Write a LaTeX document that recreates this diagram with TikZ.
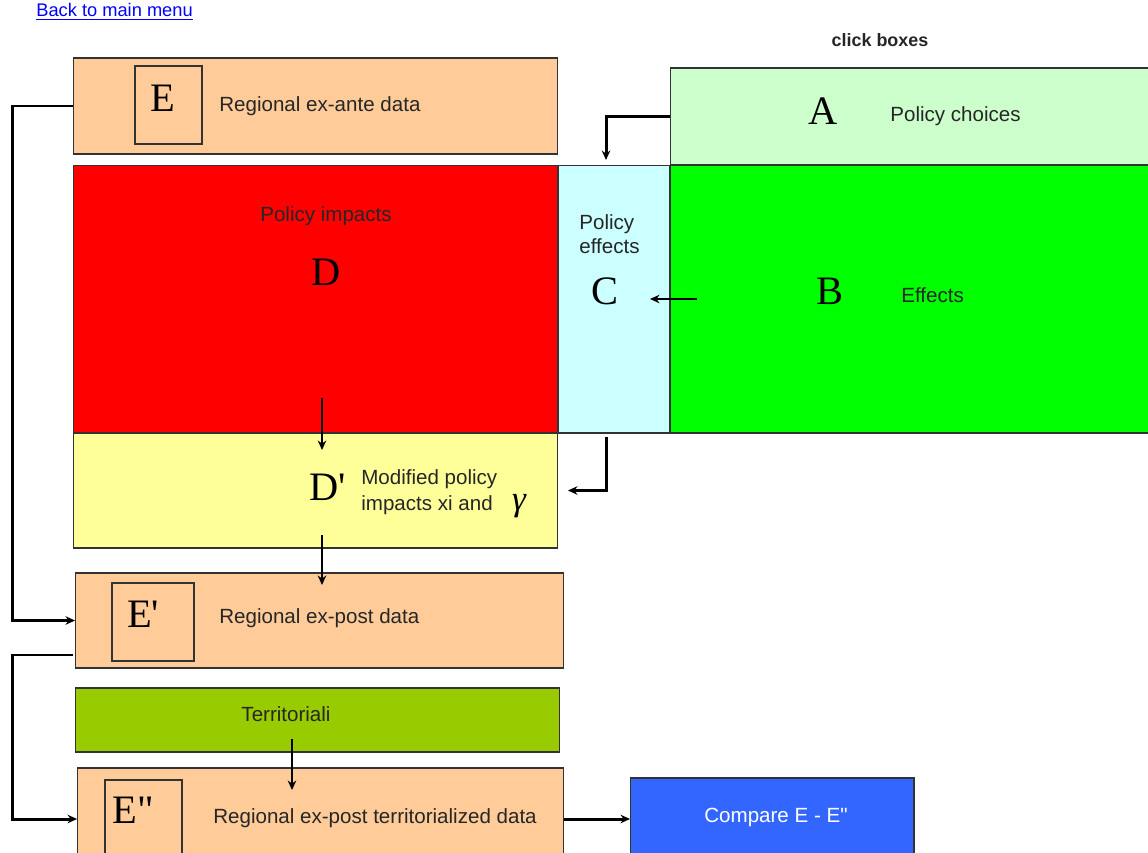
\documentclass[tikz,border=0pt]{standalone}
\usepackage{fontspec}
\setmainfont{Liberation Serif}
\newfontfamily\arialfont{Liberation Sans}
\usetikzlibrary{arrows.meta,positioning,calc}
\definecolor{peach}{HTML}{FFCC99}
\definecolor{palegreen}{HTML}{CCFFCC}
\definecolor{palecyan}{HTML}{CCFFFF}
\definecolor{paleyellow}{HTML}{FFFF99}
\definecolor{olivegreen}{HTML}{99CC00}
\definecolor{cmpblue}{HTML}{3366FF}
\definecolor{linkblue}{HTML}{0000FF}

\begin{document}
\begin{tikzpicture}[x=0.02cm, y=-0.02cm,
  box/.style={draw=black!80, line width=0.6pt, inner sep=0pt, outer sep=0pt},
  lbl/.style={font=\arialfont\fontsize{11.7}{13.8}\selectfont, inner sep=0pt, text=black!85},
  letter/.style={font=\fontsize{23}{26}\selectfont, inner sep=0pt},
  arrow/.style={-{Stealth[length=1.9mm,width=1.7mm]}, line width=1.7pt},
]
  \useasboundingbox (0,0) rectangle (1148,852);
  \clip (0,0) rectangle (1148,852);

  \node[lbl, anchor=west, text=linkblue, font=\arialfont\fontsize{10.4}{12}\selectfont] (link) at (36,12) {\underline{Back to main menu}};
  \node[lbl, font=\arialfont\bfseries\fontsize{10.2}{12}\selectfont] (click) at (880,40) {click boxes};

  \node[box, fill=peach, minimum width=9.7cm, minimum height=1.92cm] (ebox) at (315.5,106) {};
  \node[box, minimum width=1.34cm, minimum height=1.56cm] (einner) at (168.5,105) {};
  \node[letter] (eltr) at (163,98) {E};
  \node[lbl, anchor=west] (etxt) at (219,106) {Regional ex-ante data};

  \node[box, fill=palegreen, minimum width=9.6cm, minimum height=1.94cm] (abox) at (910,116.5) {};
  \node[letter] (altr) at (823,111) {A};
  \node[lbl, anchor=west] (atxt) at (890,116) {Policy choices};

  \node[box, fill=red, minimum width=9.7cm, minimum height=5.36cm] (dbox) at (315.5,299) {};
  \node[lbl] (dtxt) at (326,216) {Policy impacts};
  \node[letter] (dltr) at (326,272) {D};

  \node[box, fill=palecyan, minimum width=2.24cm, minimum height=5.36cm] (cbox) at (614,299) {};
  \node[lbl, anchor=west, align=left] (ctxt) at (579,234) {Policy\\effects};
  \node[letter] (cltr) at (605,291) {C};

  \node[box, fill=green, minimum width=9.6cm, minimum height=5.36cm] (bbox) at (910,299) {};
  \node[letter] (bltr) at (830,291) {B};
  \node[lbl, anchor=west] (btxt) at (901,295) {Effects};

  \node[box, fill=paleyellow, minimum width=9.7cm, minimum height=2.3cm] (dpbox) at (315.5,490.5) {};
  \node[letter] (dpltr) at (328,487) {D\textquotesingle};
  \node[lbl, anchor=west, align=left, font=\arialfont\fontsize{11.7}{14.6}\selectfont] (dptxt) at (361,492) {Modified policy\\impacts xi and};
  \node[letter, font=\itshape\fontsize{20}{24}\selectfont] (gamma) at (519,506) {γ};

  \node[box, fill=peach, minimum width=9.78cm, minimum height=1.9cm] (epbox) at (319.5,620.5) {};
  \node[box, minimum width=1.64cm, minimum height=1.56cm] (epinner) at (153,622) {};
  \node[letter] (epltr) at (143,614) {E\textquotesingle};
  \node[lbl, anchor=west] (eptxt) at (219,618) {Regional ex-post data};

  \node[box, fill=olivegreen, minimum width=9.7cm, minimum height=1.28cm] (tbox) at (317.5,720) {};
  \node[lbl] (ttxt) at (286,714) {Territoriali};

  \node[box, fill=peach, minimum width=9.74cm, minimum height=2.04cm] (eppbox) at (320.5,819) {};
  \node[box, minimum width=1.54cm, minimum height=1.8cm] (eppinner) at (143.5,825) {};
  \node[letter] (eppltr) at (133,810) {E\textquotedbl};
  \node[lbl, anchor=west] (epptxt) at (213,818) {Regional ex-post territorialized data};

  \node[box, fill=cmpblue, minimum width=5.68cm, minimum height=1.84cm] (cmpbox) at (772,824) {};
  \node[lbl, text=white] (cmptxt) at (776,817) {Compare E - E\textquotedbl};

  \draw[arrow] (ebox.west) -- ++(-61,0) |- (epbox.west);
  \draw[arrow] ($(epbox.south west)+(-2,-13)$) -- ++(-61,0) |- (eppbox.west);
  \draw[arrow, shorten >=0.1cm] (abox.west) -| ([xshift=-0.16cm]cbox.north);
  \draw[arrow] ($(bbox.west)+(27,0)$) -- ($(cbox.east)+(-20,0)$);
  \draw[arrow, shorten >=0.2cm] ([xshift=-0.16cm,yshift=-0.08cm]cbox.south) |- (dpbox.east);
  \draw[arrow] ($(dbox.south)+(6.5,-35)$) -- ($(dpbox.north)+(6.5,17)$);
  \draw[arrow] ($(dpbox.south)+(6.5,-13)$) -- ($(epbox.north)+(2.5,12)$);
  \draw[arrow] ($(tbox.south)+(-25.5,-13)$) -- ($(eppbox.north)+(-28.5,22)$);
  \draw[arrow] (eppbox.east) -- (eppbox.east -| cmpbox.west);
\end{tikzpicture}
\end{document}
